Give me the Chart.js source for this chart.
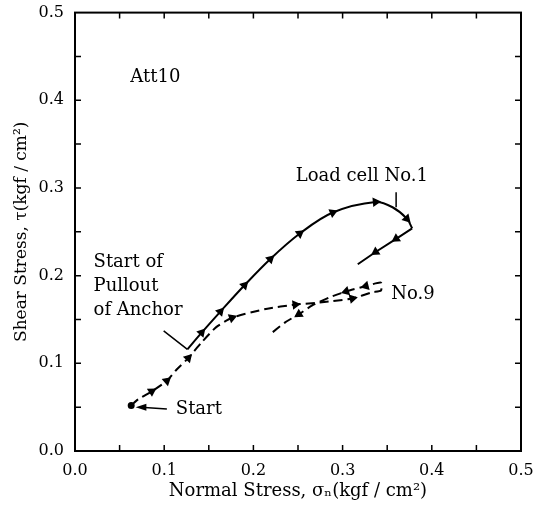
<!DOCTYPE html>
<html>
<head>
<meta charset="utf-8">
<script src="https://cdn.jsdelivr.net/npm/chart.js@4/dist/chart.umd.min.js"></script>
<style>
  html, body { margin: 0; padding: 0; background: #fff; }
  #wrap { width: 534px; height: 506px; }
</style>
</head>
<body>
<div id="wrap"><canvas id="chart"></canvas></div>
<script>
// Load cell No.1, loading branch (solid)
const cell1Sigma = [0.126, 0.142, 0.163, 0.190, 0.219, 0.252, 0.289, 0.337, 0.356, 0.372, 0.378];
const cell1Tau   = [0.116, 0.135, 0.159, 0.189, 0.219, 0.248, 0.272, 0.284, 0.278, 0.265, 0.254];
// Load cell No.1, return branch (solid)
const cell1BackSigma = [0.378, 0.360, 0.337, 0.317];
const cell1BackTau   = [0.254, 0.242, 0.227, 0.213];
// Load cell No.9 (dashed)
const no9Sigma = [0.063, 0.071, 0.086, 0.103, 0.114, 0.127, 0.142, 0.158, 0.176, 0.214, 0.247, 0.270, 0.289, 0.311, 0.333, 0.343,
                  0.343, 0.326, 0.304, 0.285, 0.266, 0.251, 0.236, 0.221];
const no9Tau   = [0.052, 0.059, 0.068, 0.080, 0.093, 0.106, 0.124, 0.141, 0.152, 0.162, 0.167, 0.169, 0.171, 0.174, 0.181, 0.183,
                  0.192, 0.188, 0.182, 0.175, 0.166, 0.156, 0.147, 0.135];
const axisTicks = [0.0, 0.1, 0.2, 0.3, 0.4, 0.5];

const pts = (xs, ys) => xs.map((x, i) => ({ x: x, y: ys[i] }));
const FONT = 'DejaVu Serif';

// arrowheads point along the path
function arrowRotation(ctx) {
  const data = ctx.dataset.data, i = ctx.dataIndex, ch = ctx.chart;
  const a = data[Math.max(0, i - 1)], b = data[Math.min(data.length - 1, i + 1)];
  const sx = ch.scales.x, sy = ch.scales.y;
  const dx = sx.getPixelForValue(b.x) - sx.getPixelForValue(a.x);
  const dy = sy.getPixelForValue(b.y) - sy.getPixelForValue(a.y);
  return Math.atan2(dy, dx) * 180 / Math.PI + 90;
}
function markers(list, r) {
  return ctx => list.includes(ctx.dataIndex) ? r : 0;
}

const frame = {
  id: 'frame',
  afterDraw(chart) {
    const { ctx, chartArea: a, scales } = chart;
    const sx = scales.x, sy = scales.y;
    const X = v => sx.getPixelForValue(v), Y = v => sy.getPixelForValue(v);
    ctx.save();
    ctx.strokeStyle = '#000';
    ctx.lineWidth = 2;
    ctx.strokeRect(a.left, a.top, a.right - a.left, a.bottom - a.top);
    ctx.lineWidth = 1.5;
    ctx.beginPath();
    for (let k = 1; k < 10; k++) {
      const v = k * 0.05;
      ctx.moveTo(X(v), a.bottom); ctx.lineTo(X(v), a.bottom - 6);
      ctx.moveTo(X(v), a.top); ctx.lineTo(X(v), a.top + 6);
      ctx.moveTo(a.left, Y(v)); ctx.lineTo(a.left + 6, Y(v));
      ctx.moveTo(a.right, Y(v)); ctx.lineTo(a.right - 6, Y(v));
    }
    ctx.stroke();

    // leaders
    ctx.lineWidth = 1.5;
    ctx.beginPath();
    ctx.moveTo(X(0.0994), Y(0.137)); ctx.lineTo(X(0.126), Y(0.116));
    ctx.moveTo(X(0.360), Y(0.295)); ctx.lineTo(X(0.360), Y(0.278));
    ctx.moveTo(X(0.103), Y(0.048)); ctx.lineTo(X(0.074), Y(0.050));
    ctx.stroke();
    ctx.beginPath();
    ctx.moveTo(X(0.068), Y(0.050));
    ctx.lineTo(X(0.080), Y(0.054));
    ctx.lineTo(X(0.080), Y(0.046));
    ctx.closePath();
    ctx.fillStyle = '#000';
    ctx.fill();

    // labels
    ctx.font = '18px "' + FONT + '"';
    ctx.textAlign = 'left';
    ctx.textBaseline = 'middle';
    ctx.fillText('Att10', X(0.062), Y(0.426));
    ctx.fillText('Load cell No.1', X(0.2475), Y(0.313));
    ctx.fillText('Start of', X(0.0208), Y(0.215));
    ctx.fillText('Pullout', X(0.0208), Y(0.188));
    ctx.fillText('of Anchor', X(0.0208), Y(0.161));
    ctx.fillText('Start', X(0.113), Y(0.048));
    ctx.fillText('No.9', X(0.3545), Y(0.179));
    ctx.restore();
  }
};

new Chart(document.getElementById('chart'), {
  type: 'line',
  data: {
    datasets: [
      {
        label: 'Load cell No.1',
        data: pts(cell1Sigma, cell1Tau),
        borderColor: '#000', backgroundColor: '#000', borderWidth: 2,
        tension: 0.35,
        pointStyle: 'triangle',
        pointRadius: markers([1, 2, 3, 4, 5, 6, 7, 9], 3.5),
        pointRotation: arrowRotation
      },
      {
        label: 'Load cell No.1 (return)',
        data: pts(cell1BackSigma, cell1BackTau),
        borderColor: '#000', backgroundColor: '#000', borderWidth: 2,
        tension: 0,
        pointStyle: 'triangle',
        pointRadius: markers([1, 2], 3.5),
        pointRotation: arrowRotation
      },
      {
        label: 'No.9',
        data: pts(no9Sigma, no9Tau),
        borderColor: '#000', backgroundColor: '#000', borderWidth: 2,
        borderDash: [9, 5],
        tension: 0.2,
        pointStyle: ctx => ctx.dataIndex === 0 ? 'circle' : 'triangle',
        pointRadius: ctx => ctx.dataIndex === 0 ? 2.5 : ([2, 3, 5, 8, 10, 13, 17, 18, 21].includes(ctx.dataIndex) ? 3.5 : 0),
        pointRotation: arrowRotation
      }
    ]
  },
  options: {
    responsive: true,
    maintainAspectRatio: false,
    animation: false,
    layout: { padding: { top: 12, right: 13, left: 0, bottom: 0 } },
    plugins: { legend: { display: false }, tooltip: { enabled: false } },
    scales: {
      x: {
        type: 'linear', min: 0, max: 0.5,
        afterFit: s => { s.height = 55; s.paddingRight = 0; s.paddingLeft = 0; },
        afterBuildTicks: s => { s.ticks = axisTicks.map(v => ({ value: v })); },
        grid: { display: false },
        border: { display: false },
        ticks: { color: '#000', padding: 2, font: { family: FONT, size: 16 }, callback: v => v.toFixed(1) },
        title: { display: true, text: 'Normal Stress, σₙ(kgf / cm²)', color: '#000', padding: { top: 0, bottom: 4 }, font: { family: FONT, size: 18 } }
      },
      y: {
        type: 'linear', min: 0, max: 0.5,
        afterFit: s => { s.width = 75; },
        afterBuildTicks: s => { s.ticks = axisTicks.map(v => ({ value: v })); },
        grid: { display: false },
        border: { display: false },
        ticks: { color: '#000', padding: 3, font: { family: FONT, size: 16 }, callback: v => v.toFixed(1) },
        title: { display: true, text: 'Shear Stress, τ(kgf / cm²)', color: '#000', padding: { top: 11, bottom: 0 }, font: { family: FONT, size: 17 } }
      }
    }
  },
  plugins: [frame]
});
</script>
</body>
</html>
